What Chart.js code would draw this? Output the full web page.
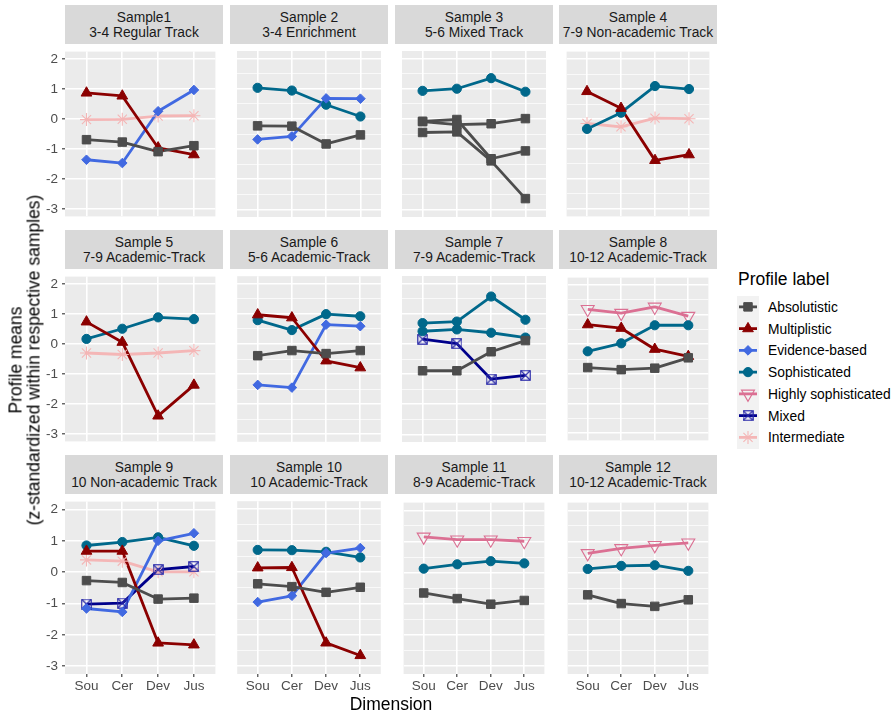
<!DOCTYPE html>
<html>
<head>
<meta charset="utf-8">
<title>Epistemic belief profiles by sample</title>
<script src="https://cdn.jsdelivr.net/npm/chart.js@4.4.1/dist/chart.umd.min.js"></script>
<style>
  html, body { margin: 0; padding: 0; background: #ffffff; }
  body { width: 896px; height: 714px; position: relative; overflow: hidden;
         font-family: "Liberation Sans", Arial, sans-serif; }
  .strip { position: absolute; background: #D9D9D9; color: #1A1A1A; font-size: 13.8px;
           line-height: 15px; text-align: center; display: flex; flex-direction: column;
           justify-content: center; white-space: nowrap; }
  .panel { position: absolute; }
  .panel canvas { display: block; }
  .ytitle { position: absolute; left: 24.5px; top: 360px; transform: translate(-50%, -50%) rotate(-90deg);
            font-size: 17.5px; line-height: 17.5px; text-align: center; white-space: nowrap; color: #000; }
  .xtitle { position: absolute; left: 391px; top: 704px; transform: translate(-50%, -50%);
            font-size: 17.5px; color: #000; white-space: nowrap; }
  .legend-title { position: absolute; left: 738px; top: 279px; transform: translateY(-50%);
                  font-size: 17.5px; color: #000; white-space: nowrap; }
  .legend-label { position: absolute; left: 768px; transform: translateY(-50%);
                  font-size: 13.8px; color: #000; white-space: nowrap; }
</style>
</head>
<body>
<script>
// ---- data -------------------------------------------------------------
const DIMENSIONS = ['Sou', 'Cer', 'Dev', 'Jus'];
const Y_TICKS = [-3, -2, -1, 0, 1, 2];
const Y_LIMITS = [-3.25, 2.25];

const SAMPLE_NAMES = ['Sample1', 'Sample 2', 'Sample 3', 'Sample 4', 'Sample 5', 'Sample 6',
                      'Sample 7', 'Sample 8', 'Sample 9', 'Sample 10', 'Sample 11', 'Sample 12'];
const SAMPLE_TRACKS = ['3-4 Regular Track', '3-4 Enrichment', '5-6 Mixed Track', '7-9 Non-academic Track',
                       '7-9 Academic-Track', '5-6 Academic-Track', '7-9 Academic-Track', '10-12 Academic-Track',
                       '10 Non-academic Track', '10 Academic-Track', '8-9 Academic-Track', '10-12 Academic-Track'];

const PROFILE_LABELS = ['Absolutistic', 'Multiplistic', 'Evidence-based', 'Sophisticated',
                        'Highly sophisticated', 'Mixed', 'Intermediate'];

// profile means per sample (Sou, Cer, Dev, Jus), one row per profile
const s1Profiles = ['Absolutistic', 'Multiplistic', 'Evidence-based', 'Intermediate'];
const s1Means = [[-0.69, -0.77, -1.09, -0.89], [0.87, 0.77, -0.96, -1.19], [-1.36, -1.47, 0.26, 0.97], [-0.02, -0.01, 0.10, 0.11]];

const s2Profiles = ['Absolutistic', 'Evidence-based', 'Sophisticated'];
const s2Means = [[-0.23, -0.24, -0.83, -0.53], [-0.68, -0.58, 0.68, 0.67], [1.03, 0.94, 0.47, 0.08]];

const s3Profiles = ['Absolutistic', 'Absolutistic', 'Absolutistic', 'Sophisticated'];
const s3Means = [[-0.09, -0.19, -0.16, 0.01], [-0.08, -0.02, -1.32, -1.06], [-0.45, -0.43, -1.39, -2.64], [0.93, 1.00, 1.35, 0.90]];

const s4Profiles = ['Multiplistic', 'Sophisticated', 'Intermediate'];
const s4Means = [[0.92, 0.36, -1.38, -1.19], [-0.33, 0.21, 1.10, 1.00], [-0.15, -0.26, 0.03, 0.01]];

const s5Profiles = ['Multiplistic', 'Sophisticated', 'Intermediate'];
const s5Means = [[0.74, 0.06, -2.40, -1.37], [0.17, 0.51, 0.89, 0.83], [-0.30, -0.35, -0.30, -0.22]];

const s6Profiles = ['Absolutistic', 'Multiplistic', 'Evidence-based', 'Sophisticated'];
const s6Means = [[-0.39, -0.22, -0.32, -0.22], [0.97, 0.87, -0.56, -0.79], [-1.36, -1.45, 0.64, 0.59], [0.79, 0.46, 0.99, 0.92]];

const s7Profiles = ['Absolutistic', 'Sophisticated', 'Sophisticated', 'Mixed'];
const s7Means = [[-0.89, -0.89, -0.26, 0.11], [0.69, 0.74, 1.57, 0.80], [0.42, 0.48, 0.37, 0.21], [0.16, 0.01, -1.17, -1.04]];

const s8Profiles = ['Absolutistic', 'Multiplistic', 'Sophisticated', 'Highly sophisticated'];
const s8Means = [[-0.79, -0.86, -0.81, -0.46], [0.66, 0.54, -0.17, -0.41], [-0.24, 0.03, 0.64, 0.64], [1.18, 1.05, 1.26, 0.95]];

const s9Profiles = ['Absolutistic', 'Multiplistic', 'Evidence-based', 'Sophisticated', 'Mixed', 'Intermediate'];
const s9Means = [[-0.27, -0.33, -0.86, -0.83], [0.67, 0.67, -2.26, -2.32], [-1.16, -1.27, 1.00, 1.24],
                 [0.85, 0.96, 1.11, 0.84], [-1.02, -0.99, 0.08, 0.18], [0.39, 0.35, 0.01, 0.01]];

const s10Profiles = ['Absolutistic', 'Multiplistic', 'Evidence-based', 'Sophisticated'];
const s10Means = [[-0.38, -0.47, -0.65, -0.49], [0.13, 0.14, -2.26, -2.66], [-0.96, -0.76, 0.60, 0.76], [0.70, 0.69, 0.64, 0.46]];

const s11Profiles = ['Absolutistic', 'Sophisticated', 'Highly sophisticated'];
const s11Means = [[-0.65, -0.83, -1.01, -0.89], [0.13, 0.27, 0.37, 0.30], [1.15, 1.06, 1.06, 1.01]];

const s12Profiles = ['Absolutistic', 'Sophisticated', 'Highly sophisticated'];
const s12Means = [[-0.71, -0.99, -1.08, -0.87], [0.12, 0.22, 0.24, 0.06], [0.62, 0.78, 0.88, 0.96]];

const SAMPLE_PROFILES = [s1Profiles, s2Profiles, s3Profiles, s4Profiles, s5Profiles, s6Profiles,
                         s7Profiles, s8Profiles, s9Profiles, s10Profiles, s11Profiles, s12Profiles];
const SAMPLE_MEANS = [s1Means, s2Means, s3Means, s4Means, s5Means, s6Means,
                      s7Means, s8Means, s9Means, s10Means, s11Means, s12Means];

// ---- marker styles ---------------------------------------------------
function squareCrossMarker(color) {
  const c = document.createElement('canvas');
  c.width = 11; c.height = 11;
  const g = c.getContext('2d');
  g.strokeStyle = color; g.lineWidth = 1.1;
  g.strokeRect(0.75, 0.75, 9.5, 9.5);
  g.beginPath();
  g.moveTo(1, 1); g.lineTo(10, 10);
  g.moveTo(10, 1); g.lineTo(1, 10);
  g.stroke();
  return c;
}

const PROFILE_STYLE = {
  'Absolutistic':         { color: '#4D4D4D', pointStyle: 'rect',     radius: 6,   rotation: 0,   filled: true },
  'Multiplistic':         { color: '#8B0000', pointStyle: 'triangle', radius: 6.2, rotation: 0,   filled: true },
  'Evidence-based':       { color: '#4169E1', pointStyle: 'rectRot',  radius: 4.8, rotation: 0,   filled: true },
  'Sophisticated':        { color: '#00688B', pointStyle: 'circle',   radius: 4.6, rotation: 0,   filled: true },
  'Highly sophisticated': { color: '#DB7093', pointStyle: 'triangle', radius: 7.5, rotation: 180, filled: false },
  'Mixed':                { color: '#00008B', pointStyle: squareCrossMarker('#2626A8'), radius: 5.5, rotation: 0, filled: false },
  'Intermediate':         { color: '#F4B6B6', pointStyle: 'star',     radius: 6.5, rotation: 0,   filled: false }
};

// ---- layout ------------------------------------------------------------
const COL_X = [65, 230, 395, 559];
const ROW_Y = [5, 230, 455];
const STRIP_H = 39;
const PANEL_W = 158;
const PANEL_H = 180;
const X_AXIS_H = 26;
const FONT = '"Liberation Sans", Arial, sans-serif';

Chart.defaults.font.family = FONT;

function addDiv(cls, html, style) {
  const d = document.createElement('div');
  d.className = cls;
  d.innerHTML = html;
  Object.assign(d.style, style || {});
  document.body.appendChild(d);
  return d;
}

const gridValues = [];
for (let v = Y_TICKS[0]; v <= Y_TICKS[Y_TICKS.length - 1] + 1e-9; v += 0.5) gridValues.push(Math.round(v * 2) / 2);

function buildPanel(idx) {
  const col = idx % 4, row = Math.floor(idx / 4);
  const showY = col === 0, showX = row === 2;
  const px = COL_X[col], stripTop = ROW_Y[row], plotTop = stripTop + STRIP_H;

  addDiv('strip', SAMPLE_NAMES[idx] + '<br>' + SAMPLE_TRACKS[idx],
         { left: px + 'px', top: stripTop + 'px', width: PANEL_W + 'px', height: STRIP_H + 'px' });

  const yAxisW = showY ? px : 0;
  const xAxisH = showX ? X_AXIS_H : 0;
  const w = PANEL_W + yAxisW, h = PANEL_H + xAxisH;
  const wrap = addDiv('panel', '', { left: (px - yAxisW) + 'px', top: plotTop + 'px', width: w + 'px', height: h + 'px' });
  const canvas = document.createElement('canvas');
  canvas.width = w; canvas.height = h;
  canvas.style.width = w + 'px'; canvas.style.height = h + 'px';
  wrap.appendChild(canvas);

  const profiles = SAMPLE_PROFILES[idx];
  const means = SAMPLE_MEANS[idx];
  const lineSets = [], pointSets = [];
  profiles.forEach((p, k) => {
    const st = PROFILE_STYLE[p];
    const pts = means[k].map((v, i) => ({ x: i, y: v }));
    lineSets.push({
      label: p, data: pts, order: 2,
      borderColor: st.color, borderWidth: 2.8, borderJoinStyle: 'round',
      pointRadius: 0, tension: 0, fill: false
    });
    pointSets.push({
      label: p, data: pts, order: 1, showLine: false,
      pointStyle: st.pointStyle, pointRadius: st.radius, pointRotation: st.rotation,
      pointBackgroundColor: st.filled ? st.color : 'rgba(0,0,0,0)',
      pointBorderColor: st.color, pointBorderWidth: st.filled ? 1 : 1.1
    });
  });

  new Chart(canvas, {
    type: 'line',
    data: { datasets: lineSets.concat(pointSets) },
    options: {
      responsive: false, animation: false, events: [],
      layout: { padding: 0 },
      plugins: { legend: { display: false }, tooltip: { enabled: false }, title: { display: false } },
      scales: {
        x: {
          type: 'linear', min: -0.6, max: DIMENSIONS.length - 0.4,
          afterBuildTicks: s => { s.ticks = DIMENSIONS.map((_, i) => ({ value: i })); },
          afterFit: s => { s.height = xAxisH; s.paddingLeft = 0; s.paddingRight = 0; },
          border: { display: false },
          grid: { color: '#FFFFFF', lineWidth: 1.6, drawTicks: showX, tickLength: 3,
                  tickColor: '#333333', tickWidth: 1.1 },
          ticks: { display: showX, autoSkip: false, maxRotation: 0, padding: 1,
                   color: '#4D4D4D', font: { size: 13.5, family: FONT },
                   callback: v => DIMENSIONS[v] }
        },
        y: {
          type: 'linear', min: Y_LIMITS[0], max: Y_LIMITS[1],
          afterBuildTicks: s => { s.ticks = gridValues.map(v => ({ value: v })); },
          afterFit: s => { s.width = yAxisW; s.paddingTop = 0; s.paddingBottom = 0; },
          border: { display: false },
          grid: {
            color: ctx => Number.isInteger(ctx.tick.value) ? '#FFFFFF' : 'rgba(255,255,255,0.85)',
            lineWidth: ctx => Number.isInteger(ctx.tick.value) ? 1.6 : 0.8,
            drawTicks: showY, tickLength: 3,
            tickColor: ctx => Number.isInteger(ctx.tick.value) ? '#333333' : 'rgba(0,0,0,0)',
            tickWidth: 1.1
          },
          ticks: { display: showY, padding: 4, color: '#4D4D4D', font: { size: 13.5, family: FONT },
                   callback: v => (Y_TICKS.includes(v) ? String(v) : '') }
        }
      }
    },
    plugins: [{
      id: 'panelBackground',
      beforeDraw(chart) {
        const a = chart.chartArea, g = chart.ctx;
        g.save(); g.fillStyle = '#EBEBEB';
        g.fillRect(a.left, a.top, a.right - a.left, a.bottom - a.top);
        g.restore();
      }
    }]
  });
}

for (let i = 0; i < SAMPLE_NAMES.length; i++) buildPanel(i);

// ---- axis titles -------------------------------------------------------
addDiv('ytitle', 'Profile means<br>(z-standardized within respective samples)');
addDiv('xtitle', 'Dimension');

// ---- legend ------------------------------------------------------------
addDiv('legend-title', 'Profile label');
const KEY_X = 737, KEY_Y = 296, KEY_W = 22, KEY_H = 21.75;
const keyCanvas = document.createElement('canvas');
keyCanvas.width = KEY_W; keyCanvas.height = Math.ceil(KEY_H * PROFILE_LABELS.length);
Object.assign(keyCanvas.style, { position: 'absolute', left: KEY_X + 'px', top: KEY_Y + 'px' });
document.body.appendChild(keyCanvas);
const kg = keyCanvas.getContext('2d');
kg.fillStyle = '#F2F2F2';
kg.fillRect(0, 0, keyCanvas.width, keyCanvas.height);
PROFILE_LABELS.forEach((p, i) => {
  const st = PROFILE_STYLE[p];
  const cy = KEY_Y + KEY_H * i + KEY_H / 2;
  const ly = cy - KEY_Y;
  kg.save();
  kg.strokeStyle = st.color; kg.lineWidth = 2.8;
  kg.beginPath(); kg.moveTo(2, ly); kg.lineTo(KEY_W - 2, ly); kg.stroke();
  kg.fillStyle = st.filled ? st.color : 'rgba(0,0,0,0)';
  kg.strokeStyle = st.color; kg.lineWidth = st.filled ? 1 : 1.1;
  Chart.helpers.drawPoint(kg, { pointStyle: st.pointStyle, rotation: st.rotation, radius: st.radius,
                                borderWidth: st.filled ? 1 : 1.1 }, KEY_W / 2, ly);
  kg.restore();
  addDiv('legend-label', p, { top: cy + 'px' });
});
</script>
</body>
</html>
